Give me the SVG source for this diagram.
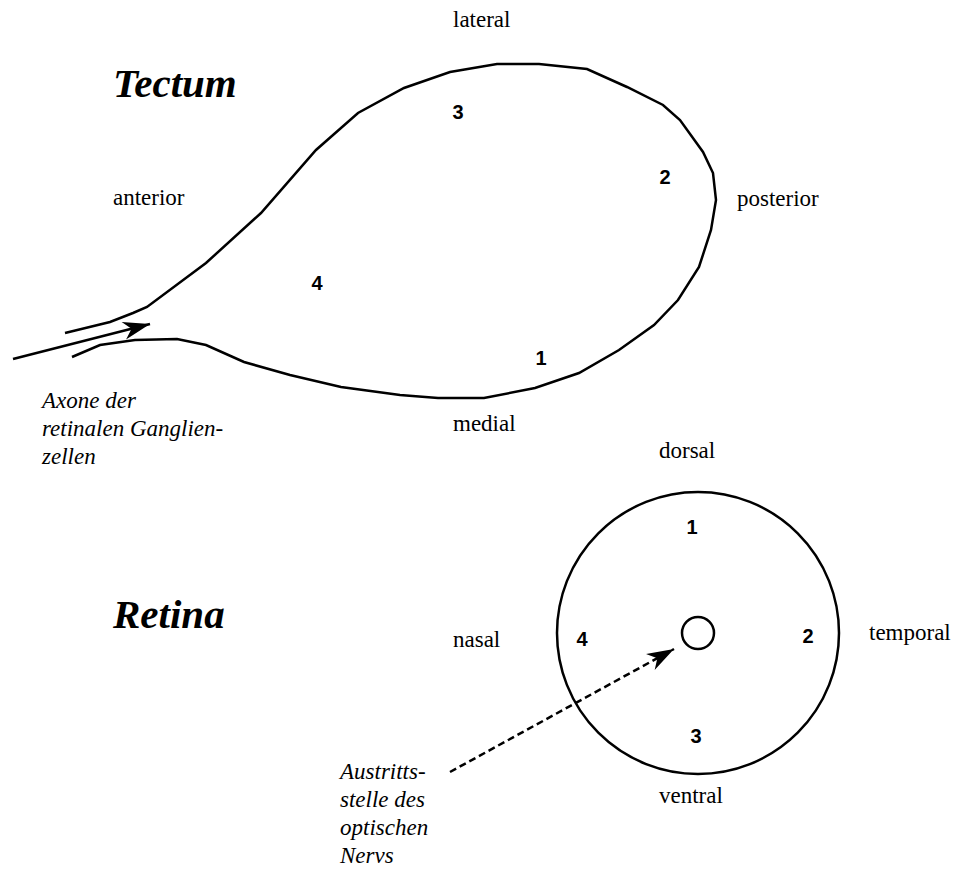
<svg xmlns="http://www.w3.org/2000/svg" width="955" height="870" viewBox="0 0 955 870">
<defs>
<style>
.lbl{font-family:"Liberation Serif","Times New Roman",serif;font-size:23px;fill:#000}
.it{font-family:"Liberation Serif","Times New Roman",serif;font-size:23px;font-style:italic;fill:#000}
.ttl{font-family:"Liberation Serif","Times New Roman",serif;font-size:41px;font-style:italic;font-weight:bold;fill:#000}
.num{font-family:"Liberation Sans",Arial,sans-serif;font-size:20px;font-weight:bold;fill:#000;text-anchor:middle}
.ln{fill:none;stroke:#000;stroke-width:2.5;stroke-linejoin:miter}
</style>
<marker id="ah" viewBox="-28 -11 30 22" refX="0" refY="0" markerWidth="30" markerHeight="22" markerUnits="userSpaceOnUse" orient="auto">
<path d="M0,0 L-27,-9 L-19,0 L-27,9 Z" fill="#000" stroke="none"/>
</marker>
</defs>
<rect width="955" height="870" fill="#fff"/>

<g id="tectum">
<polyline class="ln" points="65,333 110,322 133,313 147,307 206,263 261,213 316,150 358,113 404,88 450,72 497,64 539,64 587,69 627,87 663,105 680,120 703,152 713,173 716,200 711,230 699,267 678,300 654,325 619,350 579,373 535,388 484,398 438,398 400,395 341,387 290,375 244,362 206,345 177,339 135,340 100,345 72,357"/>
<text class="ttl" x="113" y="97">Tectum</text>
<text class="lbl" x="453" y="27">lateral</text>
<text class="lbl" x="113" y="205">anterior</text>
<text class="lbl" x="737" y="206">posterior</text>
<text class="lbl" x="453" y="431">medial</text>
<text class="num" x="458" y="119">3</text>
<text class="num" x="665" y="184">2</text>
<text class="num" x="317" y="290">4</text>
<text class="num" x="541" y="365">1</text>
</g>

<g id="retina">
<circle class="ln" cx="698" cy="633" r="141"/>
<circle class="ln" cx="698" cy="633" r="16"/>
<text class="ttl" x="113" y="628">Retina</text>
<text class="lbl" x="659" y="458">dorsal</text>
<text class="lbl" x="659" y="803">ventral</text>
<text class="lbl" x="453" y="647">nasal</text>
<text class="lbl" x="869" y="640">temporal</text>
<text class="num" x="692" y="534">1</text>
<text class="num" x="582" y="646">4</text>
<text class="num" x="808" y="643">2</text>
<text class="num" x="696" y="743">3</text>
</g>

<g id="axone-label">
<text class="it" x="42" y="408">Axone der</text>
<text class="it" x="42" y="436">retinalen Ganglien-</text>
<text class="it" x="42" y="464">zellen</text>
</g>

<g id="austritt-label">
<text class="it" x="340" y="779">Austritts-</text>
<text class="it" x="340" y="807">stelle des</text>
<text class="it" x="340" y="835">optischen</text>
<text class="it" x="340" y="863">Nervs</text>
</g>

<g id="connectors">
<line class="ln" x1="13" y1="359" x2="150" y2="324" marker-end="url(#ah)"/>
<line class="ln" x1="450" y1="772" x2="674" y2="649" stroke-dasharray="7,4" marker-end="url(#ah)"/>
</g>
</svg>
